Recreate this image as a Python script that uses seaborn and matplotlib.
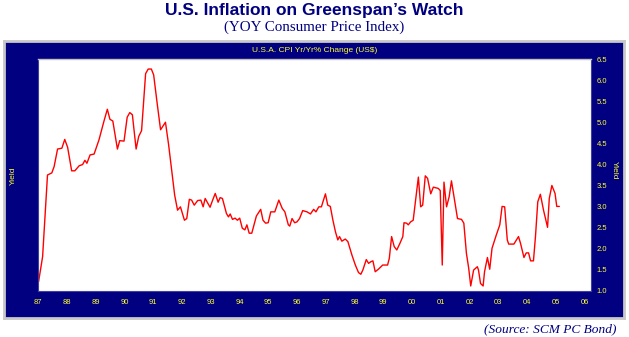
import matplotlib
matplotlib.use("Agg")
import matplotlib.pyplot as plt
import seaborn as sns
import pandas as pd

years = [1987.02, 1987.16, 1987.33, 1987.48, 1987.56, 1987.68, 1987.83, 1987.93, 1988.03, 1988.17,
         1988.28, 1988.43, 1988.55, 1988.63, 1988.70, 1988.81, 1988.95, 1989.12, 1989.29, 1989.41,
         1989.50, 1989.60, 1989.76, 1989.84, 1989.99, 1990.10, 1990.19, 1990.28, 1990.41, 1990.50,
         1990.60, 1990.74, 1990.83, 1990.94, 1991.02, 1991.14, 1991.26, 1991.43, 1991.54, 1991.66,
         1991.75, 1991.85, 1991.95, 1992.09, 1992.17, 1992.26, 1992.34, 1992.43, 1992.55, 1992.66,
         1992.74, 1992.81, 1992.98, 1993.07, 1993.16, 1993.26, 1993.33, 1993.41, 1993.55, 1993.62,
         1993.68, 1993.76, 1993.85, 1993.93, 1994.01, 1994.10, 1994.19, 1994.26, 1994.34, 1994.43,
         1994.59, 1994.74, 1994.82, 1994.91, 1995.00, 1995.09, 1995.23, 1995.37, 1995.49, 1995.58,
         1995.70, 1995.75, 1995.83, 1995.92, 1996.00, 1996.09, 1996.20, 1996.35, 1996.47, 1996.58,
         1996.66, 1996.76, 1996.85, 1996.99, 1997.07, 1997.16, 1997.25, 1997.34, 1997.42, 1997.48,
         1997.56, 1997.68, 1997.77, 1997.91, 1998.03, 1998.14, 1998.22, 1998.29, 1998.41, 1998.49,
         1998.57, 1998.64, 1998.72, 1998.83, 1998.98, 1999.15, 1999.21, 1999.29, 1999.38, 1999.47,
         1999.58, 1999.68, 1999.72, 1999.81, 1999.87, 1999.95, 2000.04, 2000.22, 2000.30, 2000.37,
         2000.46, 2000.54, 2000.65, 2000.74, 2000.91, 2000.98, 2001.05, 2001.11, 2001.20, 2001.29,
         2001.37, 2001.46, 2001.58, 2001.72, 2001.80, 2001.89, 2001.97, 2002.04, 2002.14, 2002.27,
         2002.31, 2002.38, 2002.47, 2002.52, 2002.62, 2002.70, 2002.78, 2002.93, 2003.05, 2003.13,
         2003.22, 2003.31, 2003.36, 2003.54, 2003.70, 2003.77, 2003.89, 2003.97, 2004.05, 2004.12,
         2004.22, 2004.29, 2004.37, 2004.46, 2004.57, 2004.71, 2004.77, 2004.86, 2004.97, 2005.03,
         2005.12]
cpi = [1.20, 1.80, 3.75, 3.80, 3.95, 4.37, 4.39, 4.60, 4.41, 3.85,
       3.85, 3.97, 4.00, 4.10, 4.03, 4.23, 4.25, 4.59, 5.03, 5.32,
       5.08, 5.04, 4.37, 4.57, 4.56, 5.13, 5.24, 5.19, 4.37, 4.67,
       4.81, 6.17, 6.28, 6.28, 6.14, 5.47, 4.83, 5.01, 4.47, 3.79,
       3.27, 2.91, 2.99, 2.67, 2.71, 3.17, 3.15, 3.03, 3.14, 3.15,
       2.99, 3.19, 2.98, 3.15, 3.31, 3.10, 3.21, 3.19, 2.83, 2.75,
       2.82, 2.69, 2.72, 2.67, 2.72, 2.48, 2.44, 2.56, 2.36, 2.36,
       2.77, 2.93, 2.67, 2.60, 2.61, 2.87, 2.87, 3.15, 2.95, 2.87,
       2.56, 2.53, 2.71, 2.61, 2.63, 2.71, 2.90, 2.87, 2.82, 2.93,
       2.87, 2.99, 2.99, 3.30, 3.03, 3.00, 2.67, 2.39, 2.20, 2.28,
       2.17, 2.22, 2.16, 1.84, 1.60, 1.42, 1.38, 1.48, 1.73, 1.64,
       1.68, 1.70, 1.44, 1.50, 1.60, 1.60, 1.76, 2.28, 2.04, 1.96,
       2.12, 2.28, 2.61, 2.60, 2.56, 2.63, 2.67, 3.70, 2.99, 3.03,
       3.73, 3.67, 3.30, 3.46, 3.43, 3.38, 1.60, 3.58, 2.99, 3.23,
       3.61, 3.23, 2.71, 2.69, 2.60, 1.88, 1.52, 1.10, 1.48, 1.56,
       1.48, 1.16, 1.10, 1.44, 1.78, 1.50, 2.00, 2.32, 2.56, 3.00,
       2.99, 2.20, 2.10, 2.10, 2.28, 2.12, 1.78, 1.89, 1.89, 1.70,
       1.70, 2.28, 3.11, 3.29, 2.91, 2.50, 3.19, 3.50, 3.31, 3.00,
       3.00]

xticks = list(range(1987, 2007))
xticklabels = ["87", "88", "89", "90", "91", "92", "93", "94", "95", "96",
               "97", "98", "99", "00", "01", "02", "03", "04", "05", "06"]
yticks = [1.0, 1.5, 2.0, 2.5, 3.0, 3.5, 4.0, 4.5, 5.0, 5.5, 6.0, 6.5]

title = "U.S. Inflation on Greenspan\u2019s Watch"
subtitle = "(YOY Consumer Price Index)"
panel_title = "U.S.A. CPI Yr/Yr% Change (US$)"
source = "(Source: SCM PC Bond)"

NAVY = "#000080"
YEL = "#ffff30"

sns.set_theme(style="white")
plt.rcParams['font.family'] = ['Liberation Sans', 'DejaVu Sans']

fig = plt.figure(figsize=(6.29, 3.37), dpi=100)
fig.patch.set_facecolor("white")

# navy panel as a background axes
bg = fig.add_axes([4 / 629, 1 - 318 / 337, 620 / 629, 277 / 337], zorder=0)
bg.set_facecolor(NAVY)
bg.set_xticks([])
bg.set_yticks([])
for s in bg.spines.values():
    s.set_color("#c8c8c8")
    s.set_linewidth(2)

ax = fig.add_axes([38 / 629, 1 - 291 / 337, 553 / 629, 232 / 337], zorder=1)
ax.set_facecolor("white")

df = pd.DataFrame({"year": years, "cpi": cpi})
sns.lineplot(data=df, x="year", y="cpi", ax=ax, color="#ff0000", linewidth=1.0, estimator=None)

ax.set_xlim(1987, 2006.22)
ax.set_ylim(0.98, 6.52)
ax.set_xticks(xticks)
ax.set_xticklabels(xticklabels)
ax.set_yticks(yticks)
ax.set_yticklabels([f"{v:.1f}" for v in yticks])
ax.yaxis.tick_right()
ax.tick_params(axis="both", colors=YEL, labelsize=5.5, length=2, width=0.6)
ax.tick_params(axis="x", pad=4, color="#404040")
ax.tick_params(axis="y", pad=4, length=0)
ax.set_xlabel("")
ax.set_ylabel("")
for s in ["left", "bottom", "right"]:
    ax.spines[s].set_color("#4040a0")
    ax.spines[s].set_linewidth(0.8)
ax.spines["top"].set_color("#c0c0c0")
ax.spines["top"].set_linewidth(1.0)

fig.text(0.5, 1 - 10 / 337, title, ha="center", va="center", fontsize=12.5,
         fontweight="bold", color=NAVY, family=["Liberation Sans", "DejaVu Sans"])
fig.text(0.5, 1 - 27 / 337, subtitle, ha="center", va="center", fontsize=10.8,
         color=NAVY, family=["Liberation Serif", "DejaVu Serif"])
fig.text(616 / 629, 1 - 329 / 337, source, ha="right", va="center", fontsize=9.6,
         style="italic", color=NAVY, family=["Liberation Serif", "DejaVu Serif"])
fig.text(0.5, 1 - 50 / 337, panel_title, ha="center", va="center", fontsize=6,
         color=YEL, zorder=5)
fig.text(13 / 629, 1 - 176 / 337, "Yield", ha="center", va="center", fontsize=6,
         color=YEL, rotation=90, zorder=5)
fig.text(614 / 629, 1 - 170 / 337, "Yield", ha="center", va="center", fontsize=6,
         color=YEL, rotation=270, zorder=5)

fig.savefig("out.png", dpi=100, facecolor=fig.get_facecolor())
